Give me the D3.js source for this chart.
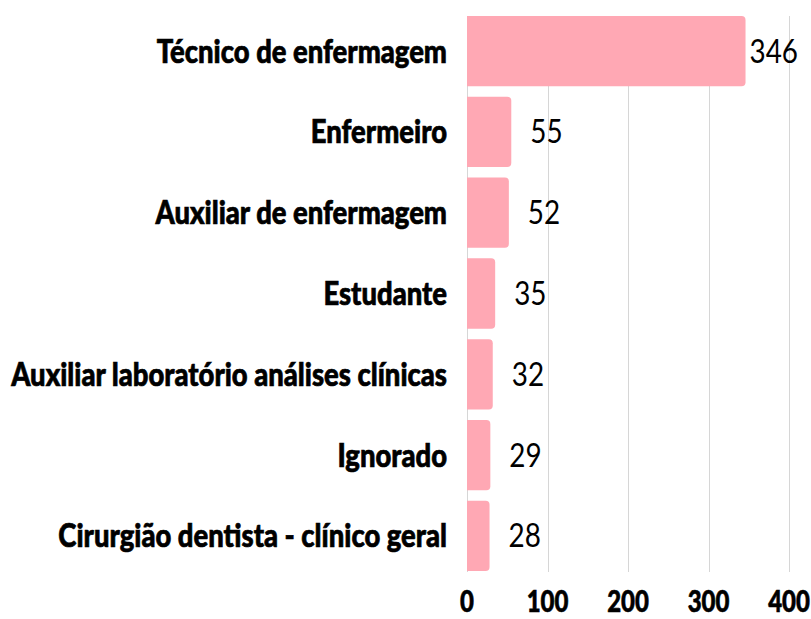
<!DOCTYPE html>
<html>
<head>
    <style>
        body {
            margin: 0;
            background: #ffffff;
        }
        .cat-label {
            font-family: Lato, "Noto Sans", sans-serif;
            font-weight: 900;
            font-size: 32px;
            fill: #000;
            stroke: #000;
            stroke-width: 0.7px;
        }
        .value-label {
            font-family: Lato, "Noto Sans", sans-serif;
            font-weight: 400;
            font-size: 32px;
            fill: #000;
        }
        .tick-label {
            font-family: Lato, "Noto Sans", sans-serif;
            font-weight: 900;
            font-size: 30px;
            fill: #000;
            stroke: #000;
            stroke-width: 0.6px;
        }
    </style>
</head>
<body>
    <div id="chart"></div>
    <script src="https://cdnjs.cloudflare.com/ajax/libs/d3/7.8.5/d3.min.js"></script>
    <script>
        // Data
        const categories = [
            "Técnico de enfermagem",
            "Enfermeiro",
            "Auxiliar de enfermagem",
            "Estudante",
            "Auxiliar laboratório análises clínicas",
            "Ignorado",
            "Cirurgião dentista - clínico geral"
        ];
        const counts = [346, 55, 52, 35, 32, 29, 28];
        const tickValues = [0, 100, 200, 300, 400];

        const W = 811, H = 619;
        const plot = { left: 467, right: 789, top: 16, bottom: 571 };
        const barColor = "#ffa8b4";
        const gridColor = "#d6d6d6";

        const data = categories.map((c, i) => ({ cat: c, value: counts[i] }));

        const svg = d3.select("#chart")
            .append("svg")
            .attr("width", W)
            .attr("height", H);

        const x = d3.scaleLinear()
            .domain([0, 400])
            .range([plot.left, plot.right]);

        const y = d3.scaleBand()
            .domain(categories)
            .range([plot.top, plot.bottom])
            .paddingInner(0.13)
            .paddingOuter(0);

        // gridlines
        svg.append("g")
            .selectAll("line")
            .data(tickValues)
            .enter()
            .append("line")
            .attr("x1", d => Math.round(x(d)) + 0.5)
            .attr("x2", d => Math.round(x(d)) + 0.5)
            .attr("y1", plot.top)
            .attr("y2", plot.bottom + 1)
            .attr("stroke", gridColor)
            .attr("stroke-width", 1);

        // bars, right corners rounded
        const r = 4;
        function barPath(d) {
            const x0 = x(0), x1 = x(d.value);
            const y0 = y(d.cat), y1 = y0 + y.bandwidth();
            return `M${x0},${y0} H${x1 - r} Q${x1},${y0} ${x1},${y0 + r} V${y1 - r} Q${x1},${y1} ${x1 - r},${y1} H${x0} Z`;
        }
        svg.append("g")
            .selectAll("path")
            .data(data)
            .enter()
            .append("path")
            .attr("d", barPath)
            .attr("fill", barColor);

        // category labels, condensed with a uniform horizontal scale
        const catG = svg.append("g");
        const cats = catG.selectAll("text")
            .data(data)
            .enter()
            .append("text")
            .attr("class", "cat-label")
            .attr("text-anchor", "end")
            .attr("dy", "0.36em")
            .text(d => d.cat);
        let maxW = 0;
        cats.each(function() { maxW = Math.max(maxW, this.getComputedTextLength()); });
        const catScale = 436 / maxW;
        cats.attr("transform", d => `translate(447,${y(d.cat) + y.bandwidth() / 2}) scale(${catScale},1)`);

        // value labels
        const numScale = 0.87;
        svg.append("g")
            .selectAll("text")
            .data(data)
            .enter()
            .append("text")
            .attr("class", "value-label")
            .attr("dy", "0.36em")
            .text(d => d.value)
            .each(function(d) {
                const w = this.getComputedTextLength() * numScale;
                const lx = Math.min(x(d.value) + 19, 798 - w);
                d3.select(this).attr("transform",
                    `translate(${lx},${y(d.cat) + y.bandwidth() / 2}) scale(${numScale},1)`);
            });

        // x axis tick labels
        svg.append("g")
            .selectAll("text")
            .data(tickValues)
            .enter()
            .append("text")
            .attr("class", "tick-label")
            .attr("text-anchor", "middle")
            .attr("transform", d => `translate(${x(d)},612) scale(0.8,1)`)
            .text(d => d);
    </script>
</body>
</html>
